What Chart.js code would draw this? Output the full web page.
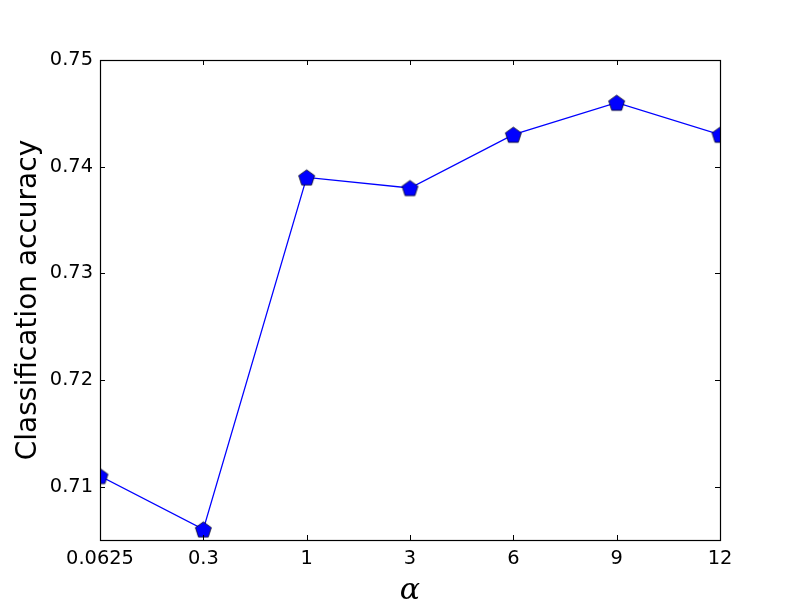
<!DOCTYPE html>
<html>
<head>
<meta charset="utf-8">
<script src="https://cdn.jsdelivr.net/npm/chart.js@4.4.0/dist/chart.umd.min.js"></script>
<style>
html,body{margin:0;padding:0;background:#fff;}
#wrap{width:800px;height:600px;position:relative;}
</style>
</head>
<body>
<div id="wrap"><canvas id="c" width="800" height="600"></canvas></div>
<script>
const categories = ["0.0625", "0.3", "1", "3", "6", "9", "12"];
const accuracy = [0.711, 0.706, 0.739, 0.738, 0.743, 0.746, 0.743];
const yTicks = [0.71, 0.72, 0.73, 0.74, 0.75];
const yMin = 0.705, yMax = 0.75;

function pentagon(r) {
  const s = Math.ceil(2 * r + 2);
  const cv = document.createElement('canvas');
  cv.width = s; cv.height = s;
  const g = cv.getContext('2d');
  g.translate(s / 2, s / 2 + r * 0.1);
  g.beginPath();
  for (let i = 0; i < 5; i++) {
    const a = -Math.PI / 2 + i * 2 * Math.PI / 5;
    const x = r * Math.cos(a), y = r * Math.sin(a);
    if (i === 0) g.moveTo(x, y); else g.lineTo(x, y);
  }
  g.closePath();
  g.fillStyle = '#0000ff';
  g.fill();
  g.lineWidth = 0.7;
  g.strokeStyle = '#000000';
  g.stroke();
  return cv;
}
const marker = pentagon(8.4);

const frame = {
  id: 'frame',
  afterDatasetsDraw(chart) {
    const ctx = chart.ctx, a = chart.chartArea;
    const xs = chart.scales.x, ys = chart.scales.y;
    ctx.save();
    ctx.strokeStyle = '#000';
    ctx.lineWidth = 1;
    const L = 5;
    ctx.beginPath();
    xs.ticks.forEach((t, i) => {
      const px = Math.round(xs.getPixelForTick(i)) + 0.5;
      ctx.moveTo(px, a.bottom); ctx.lineTo(px, a.bottom - L);
      ctx.moveTo(px, a.top); ctx.lineTo(px, a.top + L);
    });
    ys.ticks.forEach((t) => {
      const py = Math.round(ys.getPixelForValue(t.value)) + 0.5;
      ctx.moveTo(a.left, py); ctx.lineTo(a.left + L, py);
      ctx.moveTo(a.right, py); ctx.lineTo(a.right - L, py);
    });
    ctx.stroke();
    ctx.lineWidth = 1.2;
    ctx.strokeRect(Math.round(a.left) + 0.5, Math.round(a.top) + 0.5,
      Math.round(a.right - a.left), Math.round(a.bottom - a.top));
    ctx.restore();
  }
};

new Chart(document.getElementById('c'), {
  type: 'line',
  data: {
    labels: categories,
    datasets: [{
      data: accuracy,
      borderColor: '#0000ff',
      borderWidth: 1.3,
      pointStyle: marker,
      pointRadius: 8,
      pointHoverRadius: 8,
      clip: 0,
      tension: 0,
      fill: false
    }]
  },
  options: {
    responsive: false,
    animation: false,
    events: [],
    layout: { padding: { top: 60, right: 80, left: 0, bottom: 0 } },
    plugins: { legend: { display: false }, tooltip: { enabled: false } },
    scales: {
      x: {
        type: 'category',
        offset: false,
        grid: { display: false, drawTicks: false },
        border: { display: false },
        ticks: {
          color: '#000',
          font: { family: 'DejaVu Sans', size: 19.4 },
          padding: 7,
          maxRotation: 0,
          autoSkip: false
        },
        title: {
          display: true,
          text: 'α',
          color: '#000',
          font: { family: 'DejaVu Serif', size: 30, style: 'italic', lineHeight: 0.6 },
          padding: { top: 0, bottom: 0 }
        },
        afterFit(s) { s.height = 60; }
      },
      y: {
        min: yMin,
        max: yMax,
        grid: { display: false, drawTicks: false },
        border: { display: false },
        afterBuildTicks(s) { s.ticks = yTicks.map(v => ({ value: v })); },
        ticks: {
          color: '#000',
          font: { family: 'DejaVu Sans', size: 19.4 },
          padding: 7,
          callback: (v) => Number(v).toFixed(2)
        },
        title: {
          display: true,
          text: 'Classification accuracy',
          color: '#000',
          font: { family: 'DejaVu Sans', size: 28 },
          padding: { top: 12, bottom: 0 }
        },
        afterFit(s) { s.width = 100; }
      }
    }
  },
  plugins: [frame]
});
</script>
</body>
</html>
